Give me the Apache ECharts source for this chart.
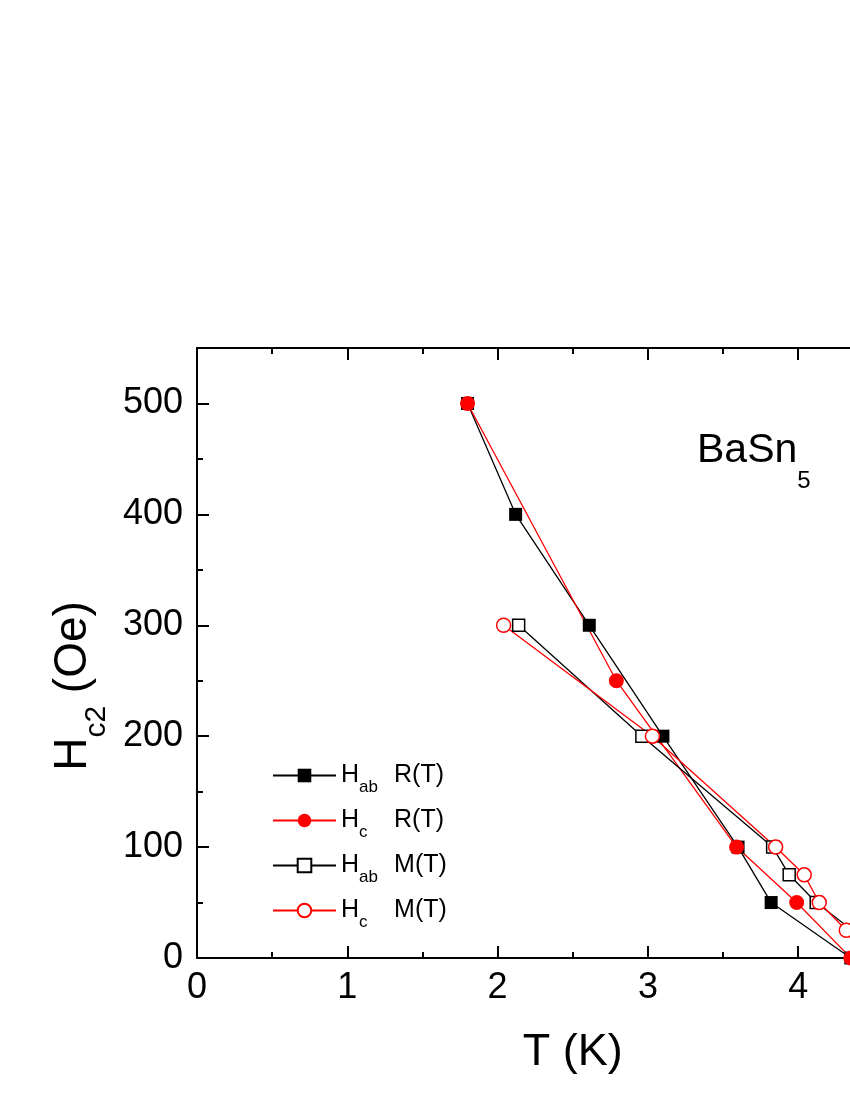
<!DOCTYPE html>
<html>
<head>
<meta charset="utf-8">
<script src="https://cdn.jsdelivr.net/npm/echarts@6/dist/echarts.min.js"></script>
<style>
  html, body { margin: 0; padding: 0; background: #fff; }
  #chart { width: 850px; height: 1100px; }
</style>
</head>
<body>
<div id="chart"></div>
<script>
// Hc2 vs T for BaSn5, [T (K), H (Oe)]
const habR = [[1.8, 500], [2.12, 400], [2.61, 300], [3.1, 200], [3.6, 100], [3.82, 50], [4.35, 0]]
const hcR = [[1.8, 500], [2.79, 250], [3.59, 100], [3.99, 50], [4.35, 0]]
const habM = [[2.14, 300], [2.96, 200], [3.83, 100], [3.94, 75], [4.12, 50], [4.36, 25], [4.45, 0]]
const hcM = [[2.04, 300], [3.03, 200], [3.85, 100], [4.04, 75], [4.14, 50], [4.32, 25], [4.42, 0]]
const seriesNames = ['{h|H}{s|ab}{h|R(T)}', '{h|H}{s|c}{h|R(T)}', '{h|H}{s|ab}{h|M(T)}', '{h|H}{s|c}{h|M(T)}']

const font = 'Liberation Sans, Arial, sans-serif'
let myChart = echarts.init(document.getElementById('chart'))

const axisLine = { show: true, onZero: false, lineStyle: { color: '#000', width: 2 } }
const axisTick = { inside: true, length: 12, lineStyle: { color: '#000', width: 2 } }
const minorTick = { show: true, splitNumber: 2, length: 6, lineStyle: { color: '#000', width: 2 } }

myChart.setOption({
  animation: false,
  backgroundColor: '#fff',
  grid: { left: 197, top: 348, width: 751.5, height: 610, outerBoundsMode: 'none' },
  title: {
    text: '{b|BaSn}{s|5}',
    left: 692,
    top: 404,
    textStyle: {
      rich: {
        b: { fontFamily: font, fontSize: 41, fontWeight: 'normal', color: '#000' },
        s: { fontFamily: font, fontSize: 24, fontWeight: 'normal', color: '#000', padding: [60, 0, 0, 0] }
      }
    }
  },
  legend: {
    orient: 'vertical',
    left: 267,
    top: 758,
    itemWidth: 63,
    itemHeight: 17,
    itemGap: 12,
    data: seriesNames,
    formatter: name => name,
    textStyle: {
      rich: {
        h: { fontFamily: font, fontSize: 25, color: '#000' },
        s: { fontFamily: font, fontSize: 17, color: '#000', width: 35, align: 'left', padding: [24, 0, 0, 0] }
      },
      fontFamily: font,
      fontSize: 25,
      color: '#000'
    }
  },
  xAxis: [
    {
      type: 'value',
      min: 0,
      max: 5,
      interval: 1,
      name: 'T (K)',
      nameLocation: 'middle',
      nameGap: 72,
      nameTextStyle: { fontFamily: font, fontSize: 45, color: '#000' },
      axisLine: axisLine,
      axisTick: axisTick,
      minorTick: minorTick,
      splitLine: { show: false },
      axisLabel: { fontFamily: font, fontSize: 36, color: '#000', margin: 12 }
    },
    {
      type: 'value',
      position: 'top',
      min: 0,
      max: 5,
      interval: 1,
      axisLine: axisLine,
      axisTick: axisTick,
      minorTick: minorTick,
      splitLine: { show: false },
      axisLabel: { show: false }
    }
  ],
  yAxis: {
    type: 'value',
    min: 0,
    max: 550,
    interval: 100,
    name: '{h|H}{s|c2}{h| (Oe)}',
    nameLocation: 'middle',
    nameGap: 85,
    nameRotate: 90,
    nameTextStyle: {
      padding: [0, 66, 0, 0],
      rich: {
        h: { fontFamily: font, fontSize: 46, color: '#000' },
        s: { fontFamily: font, fontSize: 30, color: '#000', padding: [48, 0, 0, 0] }
      }
    },
    axisLine: axisLine,
    axisTick: axisTick,
    minorTick: minorTick,
    splitLine: { show: false },
    axisLabel: { fontFamily: font, fontSize: 36, color: '#000', margin: 14, showMaxLabel: false }
  },
  series: [
    {
      name: seriesNames[0],
      type: 'line',
      data: habR,
      symbol: 'rect',
      symbolSize: 13,
      itemStyle: { color: '#000' },
      lineStyle: { color: '#000', width: 1.3 }
    },
    {
      name: seriesNames[1],
      type: 'line',
      data: hcR,
      symbol: 'circle',
      symbolSize: 15,
      itemStyle: { color: '#ff0000' },
      lineStyle: { color: '#ff0000', width: 1.3 }
    },
    {
      name: seriesNames[2],
      type: 'line',
      data: habM,
      symbol: 'rect',
      symbolSize: 12,
      itemStyle: { color: '#fff', borderColor: '#000', borderWidth: 1.5 },
      lineStyle: { color: '#000', width: 1.3 }
    },
    {
      name: seriesNames[3],
      type: 'line',
      data: hcM,
      symbol: 'circle',
      symbolSize: 14,
      itemStyle: { color: '#fff', borderColor: '#ff0000', borderWidth: 1.5 },
      lineStyle: { color: '#ff0000', width: 1.3 }
    }
  ]
})
</script>
</body>
</html>
